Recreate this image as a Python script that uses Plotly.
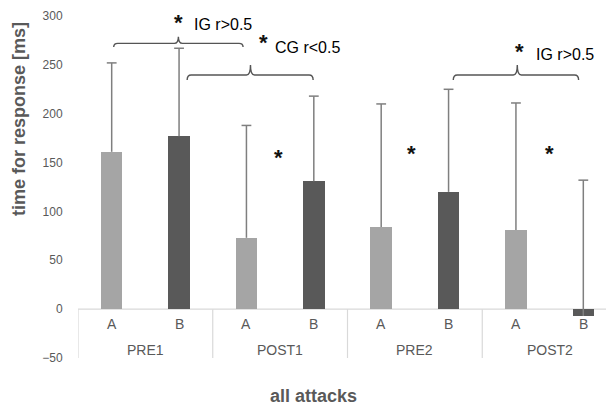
import plotly.graph_objects as go

groups = ["PRE1", "POST1", "PRE2", "POST2"]
subgroups = ["A", "B"]
a_values = [161, 73, 84, 81]
b_values = [177, 131, 120, -7]
a_error_top = [252, 188, 210, 211]
b_error_top = [267, 218, 225, 132]
y_ticks = [-50, 0, 50, 100, 150, 200, 250, 300]

FONT = "Liberation Sans, Arial, sans-serif"
GRAY_TXT = "#595959"
A_COLOR = "#a5a5a5"
B_COLOR = "#595959"
ERR_COLOR = "#7f7f7f"
LINE_COLOR = "#d9d9d9"

xa = [2 * i for i in range(len(groups))]
xb = [2 * i + 1 for i in range(len(groups))]

fig = go.Figure()
for xs, vals, col, name in [(xa, a_values, A_COLOR, "A"), (xb, b_values, B_COLOR, "B")]:
    fig.add_trace(go.Bar(x=xs, y=vals, width=0.32, name=name,
                         marker=dict(color=col, line=dict(width=0)), showlegend=False))
# one-sided (upper) error bars: cap marker at the top, line down to the bar value
for xs, vals, tops in [(xa, a_values, a_error_top), (xb, b_values, b_error_top)]:
    fig.add_trace(go.Scatter(
        x=xs, y=tops, mode="markers",
        marker=dict(symbol="line-ew", size=7, line=dict(color=ERR_COLOR, width=1.5)),
        error_y=dict(type="data", symmetric=False, array=[0] * len(vals),
                     arrayminus=[t - v for t, v in zip(tops, vals)],
                     color=ERR_COLOR, thickness=1.5, width=0),
        showlegend=False, hoverinfo="skip"))

shapes = []
shapes.append(dict(type="line", xref="x", yref="y", x0=-0.5, x1=7.5, y0=0, y1=0,
                   line=dict(color=LINE_COLOR, width=1.2), layer="below"))
for k in range(len(groups) + 1):
    xd = 2 * k - 0.5
    shapes.append(dict(type="line", xref="x", yref="y", x0=xd, x1=xd, y0=0, y1=-50,
                       line=dict(color=LINE_COLOR, width=1.2), layer="below"))

# significance brackets: (x_left, x_center, x_right, y_line, y_end, y_top)
brackets = [
    (0.03, 0.99, 1.95, 272, 268.3, 278.8),
    (1.12, 2.06, 2.99, 239.6, 234.5, 249.9),
    (5.07, 6.02, 6.93, 239.6, 234.5, 249.9),
]
for x0, xc, x1, yl, ye, yt in brackets:
    dx = 0.06
    path = (f"M {x0},{ye} Q {x0},{yl} {x0+dx},{yl} L {xc-dx},{yl} "
            f"Q {xc},{yl} {xc},{yt} Q {xc},{yl} {xc+dx},{yl} "
            f"L {x1-dx},{yl} Q {x1},{yl} {x1},{ye}")
    shapes.append(dict(type="path", xref="x", yref="y", path=path,
                       line=dict(color="#555555", width=1.4)))

annotations = []
for i, g in enumerate(groups):
    for j, s in enumerate(subgroups):
        annotations.append(dict(x=2 * i + j, y=-15.7, xref="x", yref="y", text=s,
                                xanchor="center", yanchor="middle", showarrow=False,
                                font=dict(family=FONT, size=14, color=GRAY_TXT)))
    annotations.append(dict(x=2 * i + 0.5, y=-41.9, xref="x", yref="y", text=g,
                            xanchor="center", yanchor="middle", showarrow=False,
                            font=dict(family=FONT, size=14, color=GRAY_TXT)))

star_font = dict(family=FONT, size=22, color="#111111")
lab_font = dict(family=FONT, size=16, color="#000000")
stars = [(0.99, 293.3), (2.25, 272.4), (6.06, 263.7), (2.47, 155.7), (4.45, 158.8), (6.5, 158.8)]
for sx, sy in stars:
    annotations.append(dict(x=sx, y=sy, xref="x", yref="y", text="<b>*</b>",
                            xanchor="center", yanchor="middle", showarrow=False, font=star_font))
labels = [(1.19, 291, "IG r&gt;0.5"), (2.40, 267.8, "CG r&lt;0.5"), (6.27, 260.7, "IG r&gt;0.5")]
for lx, ly, lt in labels:
    annotations.append(dict(x=lx, y=ly, xref="x", yref="y", text=lt, xanchor="left",
                            yanchor="middle", showarrow=False, font=lab_font))

# page body has an 8px margin, so figure pixel positions are screen positions minus 8
W, H = 614, 410
ML, MR, MT, MB = 70, 5, 8, 60
pw, ph = W - ML - MR, H - MT - MB
OFF = 8

def px_to_paper(sx, sy):
    fx, fy = sx - OFF, sy - OFF
    return (fx - ML) / pw, 1 - (fy - MT) / ph

tx, ty = px_to_paper(19.5, 119.5)
annotations.append(dict(x=tx, y=ty, xref="paper", yref="paper", text="<b>time for response [ms]</b>",
                        xanchor="center", yanchor="middle", showarrow=False, textangle=-90,
                        font=dict(family=FONT, size=18, color=GRAY_TXT)))
tx, ty = px_to_paper(313.5, 395.5)
annotations.append(dict(x=tx, y=ty, xref="paper", yref="paper", text="<b>all attacks</b>",
                        xanchor="center", yanchor="middle", showarrow=False,
                        font=dict(family=FONT, size=18, color=GRAY_TXT)))

fig.update_layout(
    width=W, height=H,
    margin=dict(l=ML, r=MR, t=MT, b=MB),
    paper_bgcolor="white", plot_bgcolor="white",
    xaxis=dict(range=[-0.5, 7.5], showgrid=False, zeroline=False, showline=False,
               showticklabels=False, ticks="", automargin=False),
    yaxis=dict(range=[-50, 300], tickvals=y_ticks, showgrid=False, zeroline=False,
               showline=False, ticks="outside", ticklen=12, tickcolor="rgba(0,0,0,0)",
               automargin=False, ticklabeloverflow="allow",
               tickfont=dict(family=FONT, size=12, color=GRAY_TXT)),
    shapes=shapes, annotations=annotations,
    bargap=0,
)

fig.write_html("out.html")
